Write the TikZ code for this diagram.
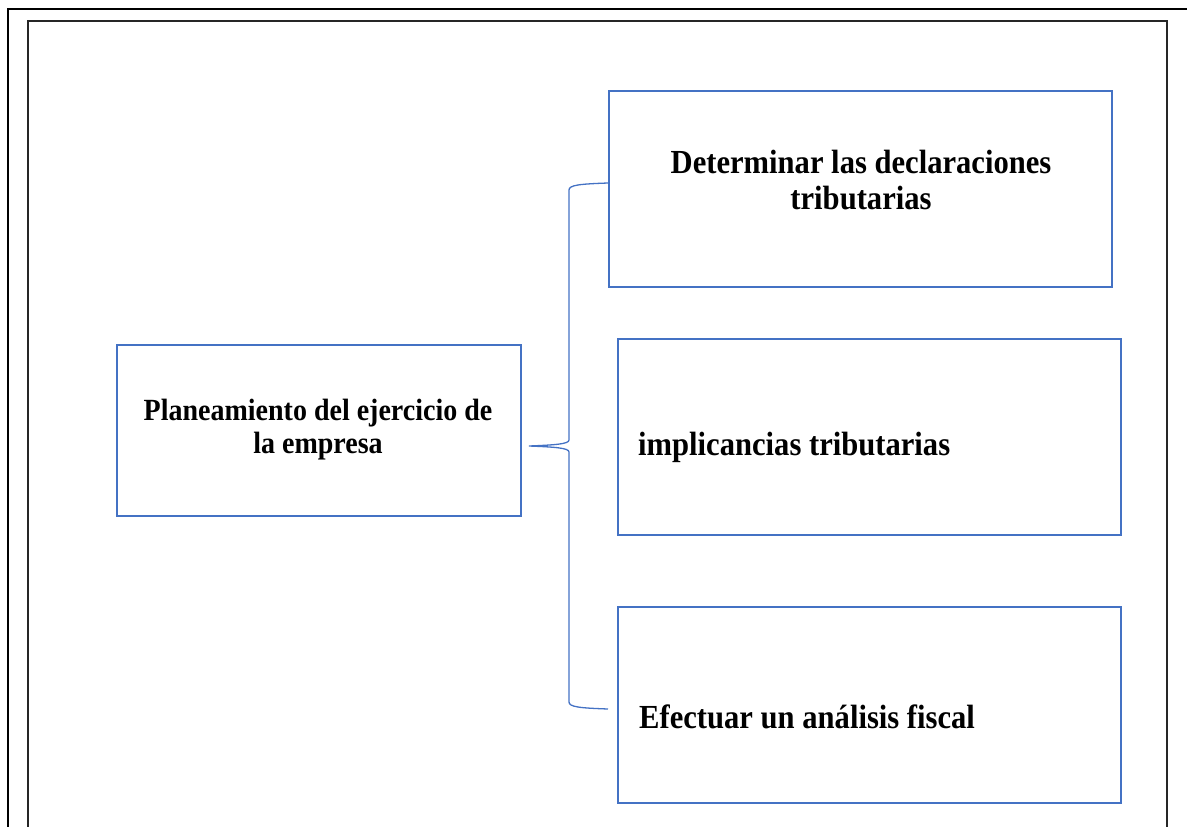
\documentclass[tikz,border=0pt]{standalone}
\usepackage{fontspec}
\setmainfont{Liberation Serif}
\definecolor{boxblue}{HTML}{4472C4}
\newcommand{\tallt}[1]{\scalebox{1}[1.1]{\begin{tabular}{@{}c@{}}#1\end{tabular}}}
\begin{document}
\begin{tikzpicture}[x=1pt,y=-1pt,
  bluebox/.style={draw=boxblue,line width=2pt,rectangle,inner sep=0pt},
  lbl/.style={font=\fontsize{30.6}{33}\selectfont\bfseries,inner sep=0pt,text=black},
  lblsmall/.style={font=\fontsize{28}{30}\selectfont\bfseries,inner sep=0pt,text=black},
  bracel/.style={draw=boxblue,line width=1.3pt}]
\useasboundingbox (0,0) rectangle (1187,827);
% frames
\draw[line width=2.2pt,black] (1187,9) -- (8,9) -- (8,827);
\draw[line width=1.3pt,black!85] (28,827) -- (28,21) -- (1167,21) -- (1167,827);
% boxes
\node[bluebox,minimum width=404pt,minimum height=171pt] (plan) at (319,430.5) {};
\node[bluebox,minimum width=503pt,minimum height=196pt] (det) at (860.5,189) {};
\node[bluebox,minimum width=503pt,minimum height=196pt] (imp) at (869.5,437) {};
\node[bluebox,minimum width=503pt,minimum height=196pt] (efe) at (869.5,705) {};
% labels
\node[lblsmall] (tplan) at (318,430.5) {\tallt{Planeamiento del ejercicio de\\la empresa}};
\node[lbl] (tdet) at (861,184) {\tallt{Determinar las declaraciones\\tributarias}};
\node[lbl,anchor=west] (timp) at (638,448) {\tallt{implicancias tributarias}};
\node[lbl,anchor=west] (tefe) at (639,721) {\tallt{Efectuar un análisis fiscal}};
% brace
\coordinate (tip) at (529,446);
\coordinate (btop) at (608,183);
\coordinate (bbot) at (608,709);
\draw[bracel] (btop) .. controls (580,184) and (569,185) .. (569,190)
  -- (569,440) .. controls (569,444) and (555,445) .. (tip)
  .. controls (555,447) and (569,448) .. (569,452)
  -- (569,702) .. controls (569,707) and (580,708) .. (bbot);
\end{tikzpicture}
\end{document}
